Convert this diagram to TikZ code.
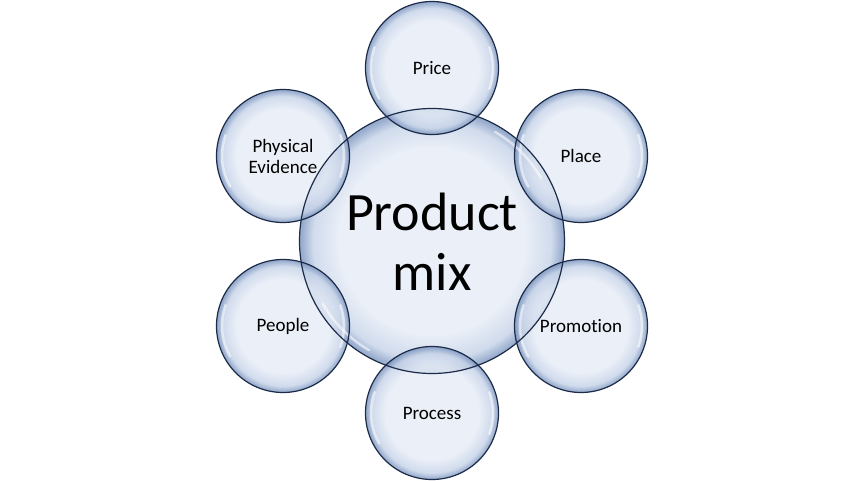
\documentclass[tikz,border=0pt]{standalone}
\usepackage{fontspec}
\setmainfont[Ligatures=NoCommon]{Carlito}
\definecolor{bubin}{HTML}{E6ECF6}
\definecolor{bubmid}{HTML}{C6D3E8}
\definecolor{bubrim}{HTML}{8099C2}
\definecolor{bubline}{HTML}{1C2B48}
\pgfdeclareradialshading{bubble}{\pgfpoint{0bp}{0bp}}{%
  color(0bp)=(bubin); color(17.5bp)=(bubin); color(22.5bp)=(bubmid);
  color(24.7bp)=(bubrim); color(25bp)=(bubrim); color(50bp)=(bubrim)}
\tikzset{
  bubfill/.style={shading=bubble, fill opacity=0.82},
  bubedge/.style={draw=bubline, line width=1.2pt},
  gloss/.style={draw=white, line width=2.5pt, line cap=round, opacity=0.55},
  smalltxt/.style={font=\fontsize{19}{21}\selectfont, align=center, text=black},
  bigtxt/.style={font=\fontsize{54}{60}\selectfont, align=center, text=black}
}
\begin{document}
\begin{tikzpicture}[x=1pt,y=-1pt]
\useasboundingbox (0,0) rectangle (864,481);
\coordinate (cC) at (432,241);
\coordinate (cPr) at (432,68);
\coordinate (cPl) at (581,156);
\coordinate (cPm) at (581,326);
\coordinate (cPs) at (432,413);
\coordinate (cPe) at (283,326);
\coordinate (cPh) at (283,156);
% fills
\shade[bubfill] (cC) circle[radius=132.5];
\foreach \c in {cPr,cPl,cPm,cPs,cPe,cPh}{
  \shade[bubfill] (\c) circle[radius=66.5];
}
% gloss highlights
\draw[gloss] (cC) ++(150:126) arc[start angle=150,end angle=120,radius=126];
\draw[gloss] (cC) ++(-60:126) arc[start angle=-60,end angle=-30,radius=126];
\foreach \c in {cPr,cPl,cPm,cPs,cPe,cPh}{
  \draw[gloss] (\c) ++(200:61) arc[start angle=200,end angle=150,radius=61];
  \draw[gloss] (\c) ++(-20:61) arc[start angle=-20,end angle=20,radius=61];
}
% edges
\draw[bubedge] (cC) circle[radius=132.5];
\foreach \c in {cPr,cPl,cPm,cPs,cPe,cPh}{
  \draw[bubedge] (\c) circle[radius=66.5];
}
% labels
\node[bigtxt] (tC) at (432,242) {Product\\mix};
\node[smalltxt] (tPr) at (cPr) {Price};
\node[smalltxt] (tPl) at (cPl) {Place};
\node[smalltxt] (tPm) at (cPm) {Promotion};
\node[smalltxt] (tPs) at (cPs) {Process};
\node[smalltxt] (tPe) at (cPe) {People};
\node[smalltxt] (tPh) at (cPh) {Physical\\Evidence};
\end{tikzpicture}
\end{document}
